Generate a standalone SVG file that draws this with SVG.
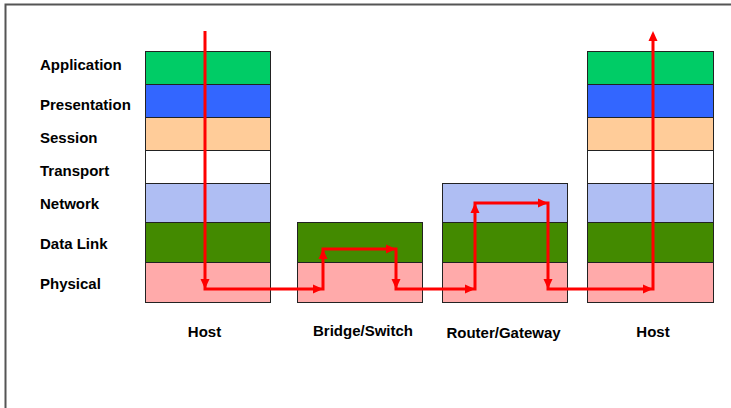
<svg xmlns="http://www.w3.org/2000/svg" width="731" height="408" viewBox="0 0 731 408">
<style>
.lbl{font-family:"Liberation Sans",Arial,sans-serif;font-weight:bold;font-size:15px;fill:#000}
.ctr{text-anchor:middle}
.app{fill:#00CC66}.pre{fill:#3366FF}.ses{fill:#FFCC99}.tra{fill:#FFFFFF}
.net{fill:#AFBEF3}.dl{fill:#438A00}.ph{fill:#FFAAAA}
rect{stroke:#222;stroke-width:1}
.route{fill:none;stroke:#FF0000;stroke-width:3;stroke-linejoin:miter}
.ah{fill:#FF0000}
</style>
<defs>
<polygon id="ah" class="ah" points="0,0 -10,-4.5 -10,4.5"/>
</defs>
<rect x="0" y="0" width="731" height="408" style="fill:#fff;stroke:none"/>
<g id="frame" fill="none" stroke="#555" stroke-width="2">
<path d="M5.5,408 V4.5 H731"/>
</g>
<g id="layer-labels">
<text class="lbl" x="40" y="70">Application</text>
<text class="lbl" x="40" y="110">Presentation</text>
<text class="lbl" x="40" y="143">Session</text>
<text class="lbl" x="40" y="176">Transport</text>
<text class="lbl" x="40" y="208.5">Network</text>
<text class="lbl" x="40" y="249">Data Link</text>
<text class="lbl" x="40" y="289">Physical</text>
</g>
<g id="host1">
<rect class="app" x="145.5" y="51.5" width="125" height="33"/>
<rect class="pre" x="145.5" y="84.5" width="125" height="33"/>
<rect class="ses" x="145.5" y="117.5" width="125" height="33"/>
<rect class="tra" x="145.5" y="150.5" width="125" height="33"/>
<rect class="net" x="145.5" y="183.5" width="125" height="39"/>
<rect class="dl" x="145.5" y="222.5" width="125" height="40"/>
<rect class="ph" x="145.5" y="262.5" width="125" height="40"/>
<text class="lbl ctr" x="204.5" y="337">Host</text>
</g>
<g id="bridge">
<rect class="dl" x="297.5" y="222.5" width="125" height="40"/>
<rect class="ph" x="297.5" y="262.5" width="125" height="40"/>
<text class="lbl ctr" x="363" y="336">Bridge/Switch</text>
</g>
<g id="router">
<rect class="net" x="442.5" y="183.5" width="125" height="39"/>
<rect class="dl" x="442.5" y="222.5" width="125" height="40"/>
<rect class="ph" x="442.5" y="262.5" width="125" height="40"/>
<text class="lbl ctr" x="503.5" y="337.5">Router/Gateway</text>
</g>
<g id="host2">
<rect class="app" x="587.5" y="51.5" width="126" height="33"/>
<rect class="pre" x="587.5" y="84.5" width="126" height="33"/>
<rect class="ses" x="587.5" y="117.5" width="126" height="33"/>
<rect class="tra" x="587.5" y="150.5" width="126" height="33"/>
<rect class="net" x="587.5" y="183.5" width="126" height="39"/>
<rect class="dl" x="587.5" y="222.5" width="126" height="40"/>
<rect class="ph" x="587.5" y="262.5" width="126" height="40"/>
<text class="lbl ctr" x="653" y="337">Host</text>
</g>
<g id="connectors">
<path class="route" d="M205,31 V289 H323 V249 H396 V289 H475 V203 H548 V289 H653 V40"/>
<use href="#ah" transform="translate(205,289) rotate(90)"/>
<use href="#ah" transform="translate(323,289)"/>
<use href="#ah" transform="translate(323,249) rotate(-90)"/>
<use href="#ah" transform="translate(396,249)"/>
<use href="#ah" transform="translate(396,289) rotate(90)"/>
<use href="#ah" transform="translate(475,289)"/>
<use href="#ah" transform="translate(475,203) rotate(-90)"/>
<use href="#ah" transform="translate(548,203)"/>
<use href="#ah" transform="translate(548,289) rotate(90)"/>
<use href="#ah" transform="translate(653,289)"/>
<use href="#ah" transform="translate(653,31) rotate(-90)"/>
</g>
</svg>
